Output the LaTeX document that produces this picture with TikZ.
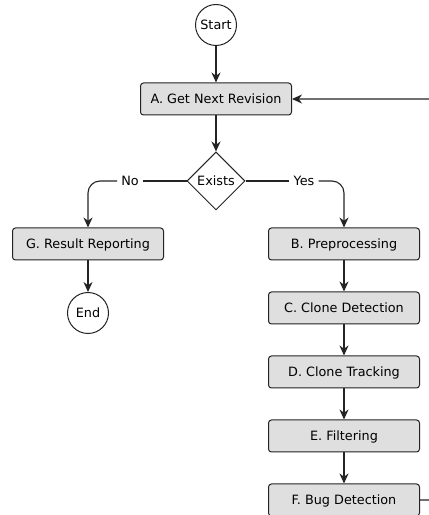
\documentclass[tikz,border=0pt]{standalone}
\usepackage{fontspec}
\setmainfont{DejaVu Sans}
\usetikzlibrary{shapes.geometric,arrows.meta}
\definecolor{boxfill}{RGB}{223,223,223}
\definecolor{edge}{RGB}{35,35,35}
\begin{document}
\begin{tikzpicture}[x=1pt,y=1pt,
  font=\fontsize{12.8}{15}\selectfont,
  every node/.style={text height=9.3pt, text depth=0pt},
  stepbox/.style={draw=edge, line width=1pt, fill=boxfill, rounded corners=3pt,
    minimum width=151pt, minimum height=32pt, inner sep=0pt},
  term/.style={circle, draw=edge, line width=1pt, fill=white,
    minimum size=41pt, inner sep=0pt},
  decision/.style={diamond, draw=edge, line width=1pt, fill=white,
    minimum width=58pt, minimum height=58pt, inner sep=0pt},
  flow/.style={draw=edge, line width=1.1pt, -{Stealth[length=10pt,width=9pt]}},
  plain/.style={draw=edge, line width=1.1pt},
  lbl/.style={fill=white, inner sep=4pt}]
\clip (0,0) rectangle (429,515);
\useasboundingbox (0,0) rectangle (429,515);

% nodes
\node[term] (start) at (216,490) {Start};
\node[stepbox] (a) at (216,416) {A. Get Next Revision};
\node[decision] (ex) at (216,334) {Exists};
\node[stepbox] (g) at (88,271) {G. Result Reporting};
\node[term] (end) at (88,202) {End};
\node[stepbox] (b) at (344,271) {B. Preprocessing};
\node[stepbox] (c) at (344,207) {C. Clone Detection};
\node[stepbox] (d) at (344,143) {D. Clone Tracking};
\node[stepbox] (e) at (344,79) {E. Filtering};
\node[stepbox] (f) at (344,15) {F. Bug Detection};

% branch labels
\node[lbl] (no) at (130,334) {No};
\node[lbl] (yes) at (304,334) {Yes};

% connectors
\draw[flow] (start) -- (a);
\draw[flow] (a) -- (ex);
\draw[plain] (ex.west) -- (no.east);
\draw[flow, rounded corners=12pt] (no.west) -- (88,334) -- (g.north);
\draw[plain] (ex.east) -- (yes.west);
\draw[flow, rounded corners=12pt] (yes.east) -- (344,334) -- (b.north);
\draw[flow] (g) -- (end);
\draw[flow] (b) -- (c);
\draw[flow] (c) -- (d);
\draw[flow] (d) -- (e);
\draw[flow] (e) -- (f);
% loop back from F to A around the right side
\draw[flow, rounded corners=12pt] (f.east) -- (450,15) -- (450,416) -- (a.east);
\end{tikzpicture}
\end{document}
